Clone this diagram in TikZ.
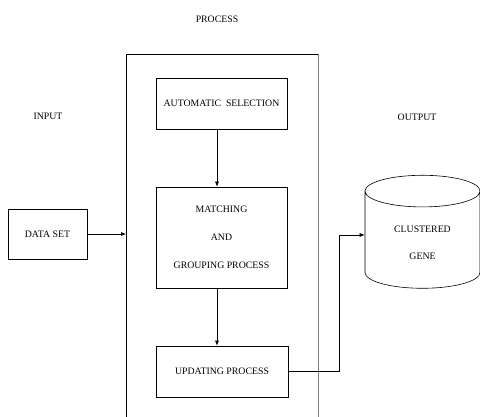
\documentclass[tikz,border=0pt]{standalone}
\usepackage{fontspec}
\setmainfont{Liberation Serif}
\usetikzlibrary{arrows.meta,shapes.geometric}
\tikzset{
  stagebox/.style={draw, line width=0.6pt, minimum width=131pt, minimum height=51pt, font=\fontsize{9.8}{11}\selectfont},
  flow/.style={-{Latex[length=5pt,width=4pt]}, line width=0.6pt},
  heading/.style={font=\fontsize{9.8}{11}\selectfont},
}
\begin{document}
\begin{tikzpicture}[x=1pt,y=-1pt]
    \useasboundingbox (0,0) rectangle (480,417);

    % Headings
    \node[heading] (proctitle) at (217,19) {PROCESS};
    \node[heading] (intitle) at (48,116) {INPUT};
    \node[heading] (outtitle) at (417,117) {OUTPUT};

    % Process frame (runs off the bottom)
    \draw[line width=0.6pt] (126,430) -- (126,54) -- (318,54);
    \draw[line width=0.6pt, gray] (318,54) -- (318,430);
    \coordinate (framewest) at (126,234);

    % Stages
    \node[stagebox] (autosel) at (221.5,103.5) {AUTOMATIC\ \ SELECTION};
    \node[stagebox, minimum height=101pt, align=center, font=\fontsize{9.8}{28}\selectfont] (matching) at (221.5,237.5) {MATCHING\\AND\\GROUPING PROCESS};
    \node[stagebox, minimum width=132pt] (updating) at (222,371.5) {UPDATING PROCESS};

    % Input
    \node[stagebox, minimum width=79pt, minimum height=50pt] (dataset) at (47.5,234) {DATA SET};

    % Output store
    \node[draw, line width=0.6pt, cylinder, shape border rotate=90, aspect=0.5,
          minimum width=115pt, minimum height=113pt, align=center,
          font=\fontsize{9.8}{27}\selectfont] (gene) at (422.5,242.5) {CLUSTERED\\GENE};

    % Arrows
    \draw[flow] (dataset.east) -- (framewest);
    \draw[flow] ([xshift=-4.5pt]autosel.south) -- ([xshift=-4.5pt]matching.north);
    \draw[flow] ([xshift=-4.5pt]matching.south) -- ([xshift=-5pt]updating.north);
    \coordinate (bend) at (339,371.5);
    \draw[flow] (updating.east) -- (bend) |- ([yshift=7.5pt]gene.west);
\end{tikzpicture}
\end{document}
